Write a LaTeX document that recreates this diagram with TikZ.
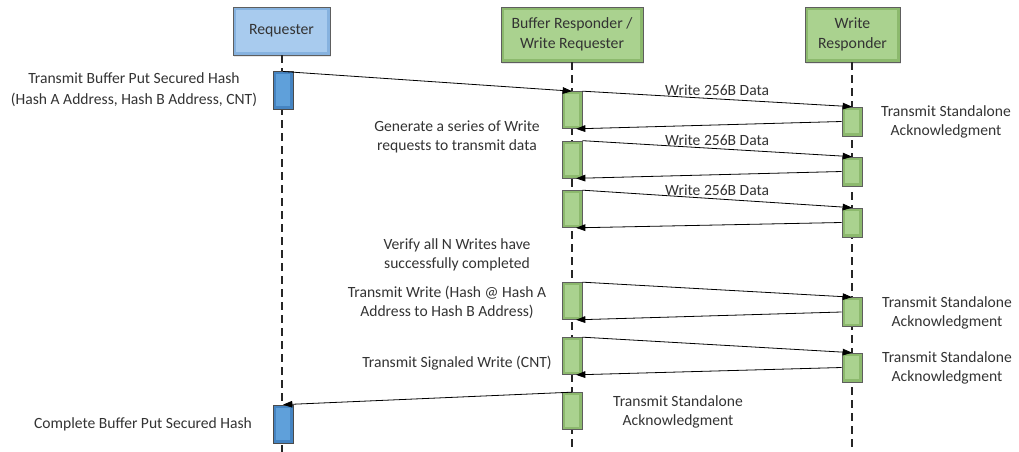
\documentclass[tikz,border=0pt]{standalone}
\usepackage{fontspec}
\setmainfont{Carlito}
\usetikzlibrary{arrows.meta,shadows}
\definecolor{reqin}{HTML}{A8CBEE}
\definecolor{reqout}{HTML}{86B2DF}
\definecolor{barbin}{HTML}{5FA0DA}
\definecolor{barbout}{HTML}{4584C2}
\definecolor{grin}{HTML}{AAD28F}
\definecolor{grout}{HTML}{8CB96D}
\definecolor{edgec}{HTML}{5E5E5E}
\definecolor{txt}{HTML}{333333}
\begin{document}
\begin{tikzpicture}[x=0.75pt,y=-0.75pt,
  bevel/.style n args={3}{draw=#3, fill=#2, line width=0.5pt, inner sep=0pt,
    path picture={\fill[#1] ([shift={(2pt,-2pt)}]path picture bounding box.north west) rectangle ([shift={(-2pt,2pt)}]path picture bounding box.south east);}},
  headtxt/.style={font=\fontsize{11.8}{15}\selectfont, text=txt, align=center,
    drop shadow={opacity=0.18, shadow xshift=0.8pt, shadow yshift=-1.2pt}},
  bluebox/.style={bevel={reqin}{reqout}{edgec}, headtxt},
  greenbox/.style={bevel={grin}{grout}{edgec}, headtxt},
  bluebar/.style={bevel={barbin}{barbout}{edgec!80!black}, minimum width=15pt},
  greenbar/.style={bevel={grin}{grout}{edgec}, minimum width=15pt},
  lifeline/.style={draw=black!85, line width=0.8pt, dash pattern=on 6pt off 3.75pt},
  msg/.style={draw=black, line width=0.6pt, -{Triangle[length=7pt,width=5pt]}},
  lbl/.style={font=\fontsize{11.7}{14.3}\selectfont, text=txt, align=center, inner sep=2pt},
]
\useasboundingbox (0,0) rectangle (1019,452);

% lifeline end points
\coordinate (reqEnd) at (282,452);
\coordinate (bufEnd) at (572,452);
\coordinate (wrEnd) at (852,452);

% heads
\node[bluebox, minimum width=72.75pt, minimum height=36pt] (req) at (281.5,31) {Requester};
\node[greenbox, minimum width=106.5pt, minimum height=41.25pt] (buf) at (572,34.5) {Buffer Responder /\\Write Requester};
\node[greenbox, minimum width=71.25pt, minimum height=41.25pt] (wr) at (852.5,34.5) {Write\\Responder};

% lifelines
\draw[lifeline] (req.south -| reqEnd) -- (reqEnd);
\draw[lifeline] (buf.south -| bufEnd) -- (bufEnd);
\draw[lifeline] (wr.south -| wrEnd) -- (wrEnd);

% activation bars
\node[bluebar, minimum height=28pt] (r1) at (283,90.5) {};
\node[bluebar, minimum height=28.5pt] (r2) at (283,424) {};
\node[greenbar, minimum height=27.75pt] (b1) at (572,110) {};
\node[greenbar, minimum height=27.75pt] (b2) at (572,159.5) {};
\node[greenbar, minimum height=27.75pt] (b3) at (572,209) {};
\node[greenbar, minimum height=27.75pt] (b4) at (572,301) {};
\node[greenbar, minimum height=27.75pt] (b5) at (572,356) {};
\node[greenbar, minimum height=27.75pt] (b6) at (572,411) {};
\node[greenbar, minimum height=21.75pt] (w1) at (852,121.5) {};
\node[greenbar, minimum height=21.75pt] (w2) at (852,171.5) {};
\node[greenbar, minimum height=21.75pt] (w3) at (852,222.5) {};
\node[greenbar, minimum height=21.75pt] (w4) at (852,312) {};
\node[greenbar, minimum height=21.75pt] (w5) at (852,367.5) {};

% messages
\draw[msg] (r1.north) -- (b1.north);
\draw[msg] (b1.north east) -- node[lbl, above] (d1) {Write 256B Data} (w1.north);
\draw[msg] (w1.west) -- ([xshift=3pt]b1.south);
\draw[msg] (b2.north east) -- node[lbl, above] (d2) {Write 256B Data} (w2.north);
\draw[msg] (w2.west) -- ([xshift=3pt]b2.south);
\draw[msg] (b3.north east) -- node[lbl, above] (d3) {Write 256B Data} (w3.north);
\draw[msg] (w3.west) -- ([xshift=3pt]b3.south);
\draw[msg] (b4.north east) -- (w4.north);
\draw[msg] (w4.west) -- ([xshift=3pt]b4.south);
\draw[msg] (b5.north east) -- (w5.north);
\draw[msg] (w5.west) -- ([xshift=3pt]b5.south);
\draw[msg] (b6.north) -- (r2.north);

% texts
\node[lbl, font=\fontsize{11.7}{15.75}\selectfont] (t1) at (134,89.5) {Transmit Buffer Put Secured Hash\\(Hash A Address, Hash B Address, CNT)};
\node[lbl] (t2) at (457,137) {Generate a series of Write\\requests to transmit data};
\node[lbl] (a1) at (946,122) {Transmit Standalone\\Acknowledgment};
\node[lbl] (t3) at (457,255) {Verify all N Writes have\\successfully completed};
\node[lbl] (t4) at (447,302) {Transmit Write (Hash @ Hash A\\Address to Hash B Address)};
\node[lbl] (t5) at (457,363) {Transmit Signaled Write (CNT)};
\node[lbl] (a2) at (947,312.5) {Transmit Standalone\\Acknowledgment};
\node[lbl] (a3) at (947,367.5) {Transmit Standalone\\Acknowledgment};
\node[lbl] (t6) at (143,424) {Complete Buffer Put Secured Hash};
\node[lbl] (a4) at (678,412) {Transmit Standalone\\Acknowledgment};
\end{tikzpicture}
\end{document}
